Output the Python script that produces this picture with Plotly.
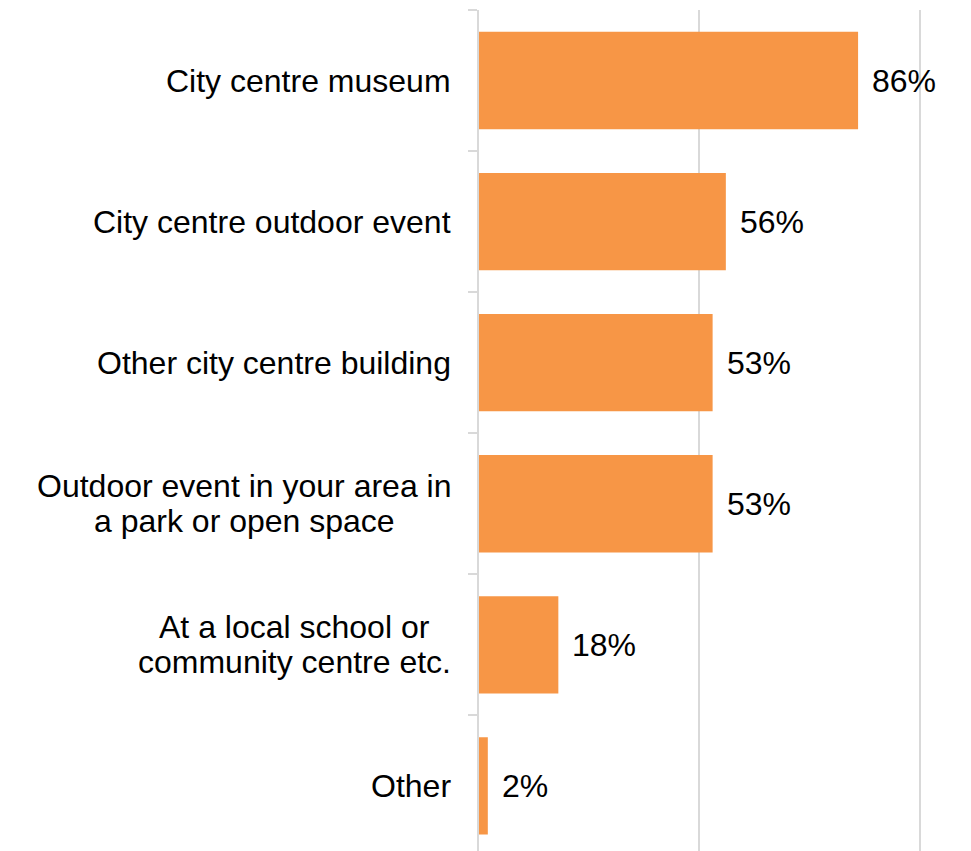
import plotly.graph_objects as go

categories = [
    "City centre museum",
    "City centre outdoor event",
    "Other city centre building",
    "Outdoor event in your area in<br>a park or open space",
    "At a local school or<br>community centre etc.",
    "Other",
]
values = [86, 56, 53, 53, 18, 2]
value_labels = ["86%", "56%", "53%", "53%", "18%", "2%"]

FONT = "Liberation Sans, Arial, sans-serif"
FS = 32
BAR = "#F79646"
GRID = "#D9D9D9"
LABEL_GAP = 26          # px between label block and axis
LINE_STEP = 35          # px between lines of a wrapped label
# approximate rendered width (px) of the widest line of each wrapped label
BLOCK_W = {3: 418, 4: 317}

fig = go.Figure(
    go.Bar(
        x=values,
        y=categories,
        orientation="h",
        marker=dict(color=BAR, line=dict(width=0)),
        width=0.69,
        hoverinfo="skip",
    )
)

annotations = []
for i, (c, v, t) in enumerate(zip(categories, values, value_labels)):
    annotations.append(dict(
        x=v, y=c, xref="x", yref="y", text=t, showarrow=False,
        xanchor="left", yanchor="middle", xshift=12,
        font=dict(family=FONT, size=FS, color="black"),
    ))
    lines = c.split("<br>")
    if len(lines) == 1:
        annotations.append(dict(
            x=0, y=c, xref="x", yref="y", text=c, showarrow=False,
            xanchor="right", yanchor="middle", xshift=-LABEL_GAP,
            font=dict(family=FONT, size=FS, color="black"),
        ))
    else:
        n = len(lines)
        for k, ln in enumerate(lines):
            annotations.append(dict(
                x=0, y=c, xref="x", yref="y", text=ln, showarrow=False,
                xanchor="center", yanchor="middle",
                xshift=-LABEL_GAP - BLOCK_W[i] / 2,
                yshift=((n - 1) / 2 - k) * LINE_STEP,
                font=dict(family=FONT, size=FS, color="black"),
            ))

fig.update_layout(
    width=971, height=851,
    margin=dict(l=471, r=57, t=2, b=0),
    paper_bgcolor="white", plot_bgcolor="white",
    showlegend=False,
    xaxis=dict(
        range=[0, 100.5], tickvals=[0, 50, 100], showticklabels=False,
        showgrid=True, gridcolor=GRID, gridwidth=2, zeroline=False,
        showline=False, fixedrange=True,
    ),
    yaxis=dict(
        categoryorder="array", categoryarray=categories[::-1],
        range=[-0.518, 5.5], showticklabels=False,
        tickson="boundaries", ticks="outside", ticklen=9, tickwidth=2, tickcolor=GRID,
        showline=True, linecolor=GRID, linewidth=2,
        showgrid=False, zeroline=False, fixedrange=True,
    ),
    annotations=annotations,
)

fig.write_html("out.html")
